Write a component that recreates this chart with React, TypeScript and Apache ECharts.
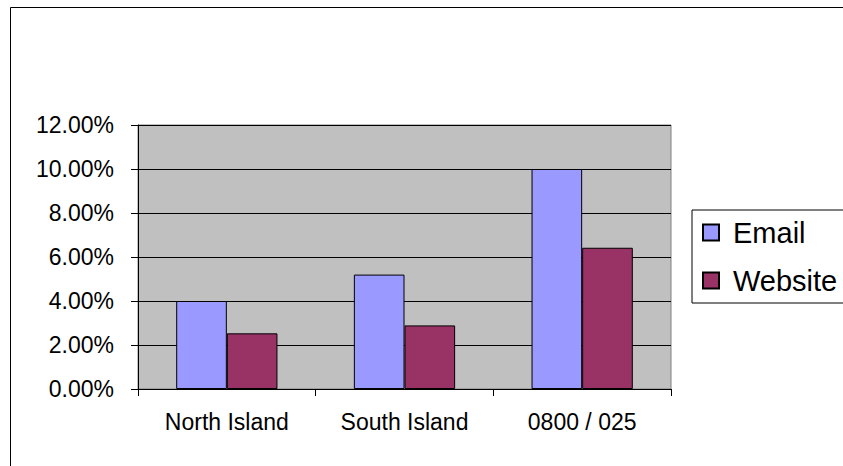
import React, { useEffect, useRef } from "react";
import * as echarts from "echarts";

const categories = ["North Island", "South Island", "0800 / 025"];
const emailValues = [4.0, 5.2, 10.0];
const websiteValues = [2.53, 2.89, 6.42];
const seriesNames = ["Email", "Website"];

export default function App() {
  const ref = useRef<HTMLDivElement>(null);
  useEffect(() => {
    if (!ref.current) return;
    const chart = echarts.init(ref.current, null, { renderer: "svg" });
    const font = "'Liberation Sans', Arial, sans-serif";
    chart.setOption({
      animation: false,
      backgroundColor: "#ffffff",
      textStyle: { fontFamily: font },
      graphic: [
        {
          type: "rect",
          shape: { x: 10.5, y: 7.5, width: 1000, height: 1000 },
          style: { fill: "none", stroke: "#000", lineWidth: 1 },
          silent: true,
        },
      ],
      grid: {
        left: 138,
        top: 125,
        right: 172,
        bottom: 77,
        show: true,
        backgroundColor: "#C0C0C0",
        borderColor: "#808080",
        borderWidth: 1,
      },
      legend: {
        orient: "vertical",
        left: 692,
        top: 210,
        padding: [8, 20, 8, 10],
        itemGap: 19,
        itemWidth: 16,
        itemHeight: 16,
        icon: "rect",
        borderColor: "#000",
        borderWidth: 1,
        backgroundColor: "#fff",
        data: seriesNames,
        textStyle: {
          fontSize: 29,
          color: "#000",
          fontFamily: font,
          padding: [0, 0, 0, 9],
        },
      },
      xAxis: {
        type: "category",
        data: categories,
        axisLine: { show: true, lineStyle: { color: "#000", width: 1 } },
        axisTick: { show: true, alignWithLabel: false, length: 7, lineStyle: { color: "#000" } },
        axisLabel: { fontSize: 23, color: "#000", margin: 21, fontFamily: font },
        splitLine: { show: false },
      },
      yAxis: {
        type: "value",
        min: 0,
        max: 12,
        interval: 2,
        axisLine: { show: true, lineStyle: { color: "#000", width: 1 } },
        axisTick: { show: true, length: 7, lineStyle: { color: "#000" } },
        axisLabel: {
          fontSize: 23,
          color: "#000",
          margin: 24,
          fontFamily: font,
          formatter: (v: number) => v.toFixed(2) + "%",
        },
        splitLine: { show: true, lineStyle: { color: "#000", width: 1 } },
      },
      series: [
        {
          name: seriesNames[0],
          type: "bar",
          data: emailValues,
          barGap: "0%",
          barCategoryGap: "43%",
          itemStyle: { color: "#9999FF", borderColor: "#000", borderWidth: 1 },
        },
        {
          name: seriesNames[1],
          type: "bar",
          data: websiteValues,
          barGap: "0%",
          barCategoryGap: "43%",
          itemStyle: { color: "#993366", borderColor: "#000", borderWidth: 1 },
        },
      ],
    });
    return () => chart.dispose();
  }, []);
  return (
    <div
      ref={ref}
      style={{ position: "absolute", left: 0, top: 0, width: 843, height: 466 }}
    />
  );
}
